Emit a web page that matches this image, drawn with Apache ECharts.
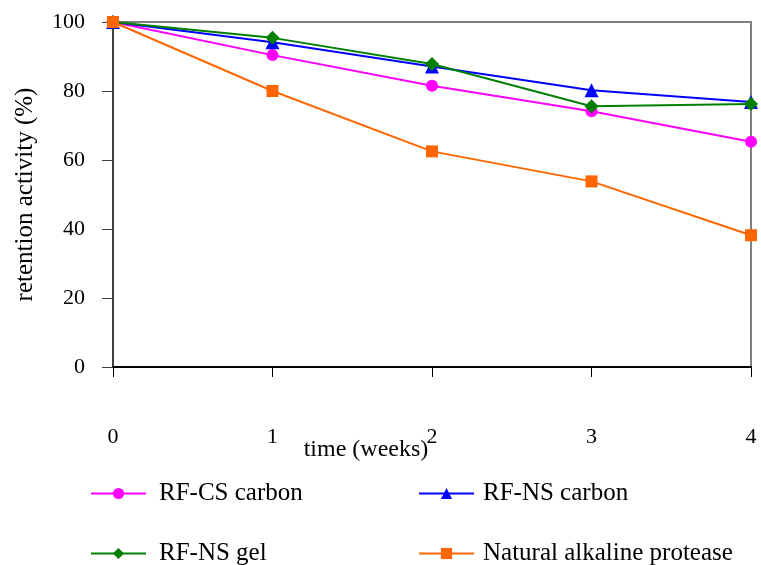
<!DOCTYPE html>
<html>
<head>
<meta charset="utf-8">
<script src="https://cdn.jsdelivr.net/npm/echarts@6/dist/echarts.min.js"></script>
<style>
  html, body { margin: 0; padding: 0; background: #fff; }
  #chart { width: 761px; height: 565px; }
</style>
</head>
<body>
<div id="chart"></div>
<script>
// Weeks of storage
const weeks = ['0', '1', '2', '3', '4'];

// Retention activity (%) per preparation
const rfCsCarbon = [100, 90.4, 81.5, 74.1, 65.3];
const rfNsCarbon = [100, 94.1, 87.1, 80.2, 76.8];
const rfNsGel = [100, 95.4, 87.8, 75.6, 76.2];
const naturalProtease = [100, 80.0, 62.5, 53.8, 38.2];

const seriesNames = ['RF-CS carbon', 'RF-NS carbon', 'RF-NS gel', 'Natural alkaline protease'];

const font = 'Liberation Serif, Times New Roman, serif';

function line(name, data, color, symbol, size) {
  return {
    name: name,
    type: 'line',
    data: data,
    symbol: symbol,
    symbolSize: size,
    lineStyle: { color: color, width: 2 },
    itemStyle: { color: color },
    animation: false
  };
}

function legendAt(name, left, top, textGap) {
  return {
    data: [name],
    left: left,
    top: top,
    itemWidth: 55,
    itemHeight: 14,
    itemGap: 10,
    textStyle: { fontFamily: font, fontSize: 25, color: '#000', padding: [0, 0, 0, textGap] }
  };
}

const chart = echarts.init(document.getElementById('chart'));
chart.setOption({
  backgroundColor: '#fff',
  grid: {
    left: 113, right: 10, top: 22, bottom: 198,
    outerBoundsMode: 'none',
    containLabel: false,
    show: true, borderColor: '#808080', borderWidth: 2
  },
  xAxis: {
    type: 'category',
    data: weeks,
    boundaryGap: false,
    axisLine: { lineStyle: { color: '#000', width: 2 } },
    axisTick: { length: 10, lineStyle: { color: '#000', width: 1 } },
    axisLabel: { margin: 59, fontFamily: font, fontSize: 22, color: '#000' },
    name: 'time (weeks)',
    nameLocation: 'middle',
    nameGap: 71,
    nameMoveOverlap: false,
    nameTextStyle: { fontFamily: font, fontSize: 24, color: '#000', padding: [0, 132, 0, 0] },
    splitLine: { show: false }
  },
  yAxis: {
    type: 'value',
    min: 0, max: 100, interval: 20,
    axisLine: { show: true, lineStyle: { color: '#404040', width: 2 } },
    axisTick: { show: true, length: 11, lineStyle: { color: '#404040', width: 1 } },
    axisLabel: { margin: 28, fontFamily: font, fontSize: 22, color: '#000' },
    splitLine: { show: false },
    name: 'retention activity (%)',
    nameLocation: 'middle',
    nameGap: 75,
    nameMoveOverlap: false,
    nameTextStyle: { fontFamily: font, fontSize: 25, color: '#000' }
  },
  legend: [
    legendAt(seriesNames[0], 85, 476, 8),
    legendAt(seriesNames[1], 413, 476, 4),
    legendAt(seriesNames[2], 85, 536, 8),
    legendAt(seriesNames[3], 413, 536, 4)
  ],
  series: [
    line(seriesNames[0], rfCsCarbon, '#ff00ff', 'circle', 12),
    line(seriesNames[1], rfNsCarbon, '#0000ff', 'triangle', 14),
    line(seriesNames[2], rfNsGel, '#008000', 'diamond', 14),
    line(seriesNames[3], naturalProtease, '#ff6600', 'rect', 12)
  ]
});
</script>
</body>
</html>
